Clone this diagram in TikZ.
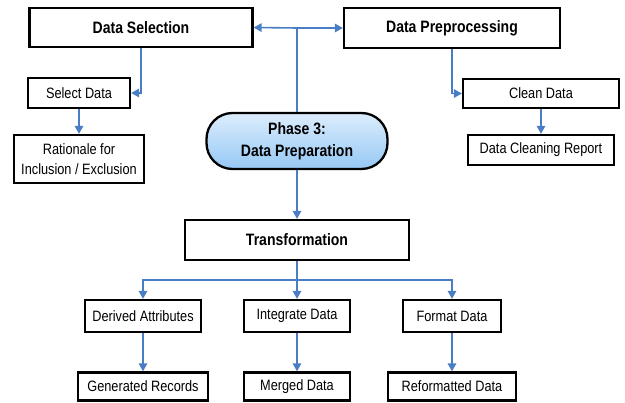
\documentclass[tikz,border=0pt]{standalone}
\usepackage{fontspec}
\setmainfont{Liberation Sans}[FakeStretch=0.85]
\usetikzlibrary{arrows.meta}
\definecolor{lineblue}{HTML}{4A7EC4}
\definecolor{phasetop}{HTML}{DCEDFC}
\definecolor{phasebot}{HTML}{96C8F5}
\tikzset{
  box/.style={draw=black, line width=2.3pt, fill=white, inner sep=0pt, align=center,
    font=\fontsize{15}{20}\selectfont},
  bigbox/.style={box, font=\fontsize{16.5}{22}\selectfont\bfseries},
  phasebox/.style={draw=black, line width=2.3pt, rounded corners=26pt, inner sep=0pt, align=center,
    top color=phasetop, bottom color=phasebot, font=\fontsize{16.5}{22}\selectfont\bfseries},
  arr/.style={draw=lineblue, line width=1.6pt, -{Triangle[length=8pt,width=8.5pt]}},
  ln/.style={draw=lineblue, line width=1.6pt},
}
\begin{document}
\begin{tikzpicture}[x=1pt,y=-1pt]
\useasboundingbox (0,0) rectangle (625,403);
% top level
\node[bigbox, minimum width=223pt, minimum height=39pt] (sel) at (141,27.5) {Data Selection};
\node[bigbox, minimum width=216pt, minimum height=40pt] (pre) at (452,28) {Data Preprocessing};
\node[box, minimum width=102pt, minimum height=30pt] (seld) at (79,93) {Select Data};
\node[box, minimum width=130pt, minimum height=48pt] (rat) at (79,159) {Rationale for\\Inclusion / Exclusion};
\node[phasebox, minimum width=181pt, minimum height=56pt] (phase) at (297,141) {Phase 3:\\Data Preparation};
\node[box, minimum width=156pt, minimum height=29pt] (clean) at (541,93.5) {Clean Data};
\node[box, minimum width=146pt, minimum height=30pt] (rep) at (541,150) {Data Cleaning Report};
\node[bigbox, minimum width=224pt, minimum height=40pt] (trans) at (297,240) {Transformation};
\node[box, minimum width=116pt, minimum height=32pt] (der) at (143,316) {Derived Attributes};
\node[box, minimum width=106pt, minimum height=32pt] (int) at (297,316) {Integrate Data};
\node[box, minimum width=98pt, minimum height=32pt] (fmt) at (452,316) {Format Data};
\node[box, minimum width=130pt, minimum height=28pt] (gen) at (143,386.5) {Generated Records};
\node[box, minimum width=106pt, minimum height=28pt] (mer) at (297,386.5) {Merged Data};
\node[box, minimum width=128pt, minimum height=28pt] (ref) at (452,386.5) {Reformatted Data};
% connectors
\coordinate (j) at (297,28);
\coordinate (b) at (297,280);
\draw[ln] (phase.north) -- (j);
\draw[arr] (j) -- (sel.east);
\draw[arr] (j) -- (pre.west);
\draw[arr] (sel.south) |- (seld.east);
\draw[arr] (seld.south) -- (rat.north);
\draw[arr] (pre.south) |- (clean.west);
\draw[arr] (clean.south) -- (rep.north);
\draw[arr] (phase.south) -- (trans.north);
\draw[arr] (trans.south) -- (int.north);
\draw[arr] (b) -| (der.north);
\draw[arr] (b) -| (fmt.north);
\draw[arr] (der.south) -- (gen.north);
\draw[arr] (int.south) -- (mer.north);
\draw[arr] (fmt.south) -- (ref.north);
\end{tikzpicture}
\end{document}
